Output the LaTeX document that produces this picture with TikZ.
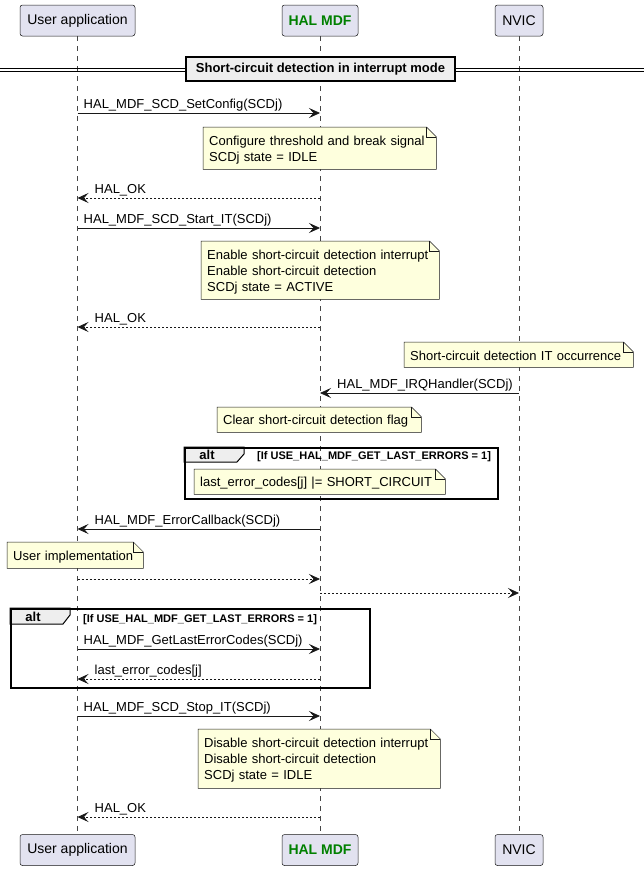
\documentclass[tikz,border=0pt]{standalone}
\usepackage{fontspec}
\setmainfont{Liberation Sans}
\usetikzlibrary{arrows.meta}
\definecolor{partfill}{HTML}{E2E2F0}
\definecolor{linec}{HTML}{181818}
\definecolor{notefill}{HTML}{FEFFDD}
\definecolor{grpfill}{HTML}{EEEEEE}
\definecolor{halgreen}{HTML}{008000}
\pgfdeclarelayer{bg}\pgfdeclarelayer{notelayer}\pgfsetlayers{bg,notelayer,main}
\tikzset{
 part/.style={draw=linec, fill=partfill, line width=0.5pt, rounded corners=2.5pt, minimum height=31pt, inner xsep=0pt, font=\fontsize{14}{16}\selectfont},
 halpart/.style={part, text=halgreen, font=\bfseries\fontsize{14}{16}\selectfont},
 lifeline/.style={draw=linec!80, line width=0.5pt, dash pattern=on 5pt off 5pt},
 msg/.style={draw=linec, line width=0.8pt, -{Stealth[length=11pt,width=10pt,inset=4.5pt]}},
 ret/.style={msg, dash pattern=on 2pt off 2pt},
 lbl/.style={font=\fontsize{13}{15}\selectfont, inner sep=0pt, anchor=base west},
 notetxt/.style={align=left, inner xsep=6pt, inner ysep=0pt, font=\fontsize{13}{16}\selectfont},
 noteline/.style={draw=linec, fill=notefill, line width=0.5pt},
 frm/.style={draw=black, line width=1.5pt, inner sep=0pt, anchor=north west},
 tab/.style={draw=black, fill=grpfill, line width=1pt},
 guard/.style={font=\bfseries\fontsize{11}{13}\selectfont, inner sep=0pt, anchor=base west},
 altlbl/.style={font=\bfseries\fontsize{13}{15}\selectfont, inner sep=0pt},
}
\newcommand\drawnote[6]{%
 \pgfmathsetmacro\nh{#5-#3}\pgfmathsetmacro\tw{#4-#2-12}\pgfmathsetmacro\ny{#3+1.5}%
 \node[notetxt, anchor=north west, text width=\tw pt, minimum height=\nh pt] (#1) at (#2,\ny) {#6};
 \begin{pgfonlayer}{notelayer}
 \path[noteline] ([yshift=1.5pt]#1.north west) -- ([xshift=-10pt,yshift=1.5pt]#1.north east) -- ([yshift=-8.5pt]#1.north east) -- ([yshift=1.5pt]#1.south east) -- ([yshift=1.5pt]#1.south west) -- cycle;
 \draw[linec, line width=0.5pt] ([xshift=-10pt,yshift=1.5pt]#1.north east) |- ([yshift=-8.5pt]#1.north east);
 \end{pgfonlayer}}
\newcommand\rmsg[6]{%
 \coordinate (#5s) at (#2 |- 0,#4);
 \coordinate (#5e) at (#3 |- 0,#4);
 \draw[#1] (#5s) -- (#5e);
 \node[lbl] (#5l) at ([xshift=6pt,yshift=5pt]#5s) {#6};}
\newcommand\lmsg[6]{%
 \coordinate (#5s) at (#2 |- 0,#4);
 \coordinate (#5e) at (#3 |- 0,#4);
 \draw[#1] (#5s) -- (#5e);
 \node[lbl] (#5l) at ([xshift=17pt,yshift=5pt]#5e) {#6};}
\begin{document}
\begin{tikzpicture}[x=1pt,y=-1pt]
\useasboundingbox (0,0) rectangle (644,870);
\begin{pgfonlayer}{bg}
\fill[white] (0,0) rectangle (644,870);
\end{pgfonlayer}
% participants
\node[part, minimum width=115pt] (ua) at (77.5,20.5) {User application};
\node[halpart, minimum width=76pt] (hal) at (320,20.5) {HAL MDF};
\node[part, minimum width=48pt] (nv) at (519,20.5) {NVIC};
\node[part, minimum width=115pt] (uab) at (77.5,850) {User application};
\node[halpart, minimum width=76pt] (halb) at (320,850) {HAL MDF};
\node[part, minimum width=48pt] (nvb) at (519,850) {NVIC};
\begin{pgfonlayer}{bg}
\draw[lifeline] (ua.south) -- (uab.north);
\draw[lifeline] (hal.south) -- (halb.north);
\draw[lifeline] (nv.south) -- (nvb.north);
\end{pgfonlayer}
% divider
\coordinate (dl) at (0,70);
\coordinate (dr) at (644,70);
\draw[black, line width=0.8pt] ([yshift=1.6pt]dl) -- ([yshift=1.6pt]dr);
\draw[black, line width=0.8pt] ([yshift=-1.6pt]dl) -- ([yshift=-1.6pt]dr);
\node[draw=black, line width=1.5pt, fill=grpfill, minimum width=269pt, minimum height=24pt, font=\bfseries\fontsize{13}{15}\selectfont] (div) at (320.5,69) {Short-circuit detection in interrupt mode};
% messages
\rmsg{msg}{ua}{hal}{113}{m1}{HAL\_MDF\_SCD\_SetConfig(SCDj)}
\drawnote{n1}{203}{127}{436}{169}{Configure threshold and break signal\\SCDj state = IDLE}
\lmsg{ret}{hal}{ua}{198}{m2}{HAL\_OK}
\rmsg{msg}{ua}{hal}{228}{m3}{HAL\_MDF\_SCD\_Start\_IT(SCDj)}
\drawnote{n2}{201}{241}{439}{299}{Enable short-circuit detection interrupt\\Enable short-circuit detection\\SCDj state = ACTIVE}
\lmsg{ret}{hal}{ua}{327}{m4}{HAL\_OK}
\drawnote{n3}{404}{342}{633}{367}{Short-circuit detection IT occurrence}
\lmsg{msg}{nv}{hal}{393}{m5}{HAL\_MDF\_IRQHandler(SCDj)}
\drawnote{n4}{217}{407}{421}{432}{Clear short-circuit detection flag}
% alt frame 1
\node[frm, minimum width=313pt, minimum height=51pt] (f1) at (184,447) {};
\begin{pgfonlayer}{notelayer}
\path[tab] (f1.north west) -- ++(60,0) -- ++(0,7) -- ++(-7,8) -- ++(-53,0) -- cycle;
\end{pgfonlayer}
\node[altlbl] (f1a) at ([xshift=23pt,yshift=-8pt]f1.north west) {alt};
\node[guard] (f1g) at ([xshift=73pt,yshift=-12pt]f1.north west) {[If USE\_HAL\_MDF\_GET\_LAST\_ERRORS = 1]};
\drawnote{n5}{194}{469}{445}{494}{last\_error\_codes[j] |= SHORT\_CIRCUIT}
\lmsg{msg}{hal}{ua}{529}{m6}{HAL\_MDF\_ErrorCallback(SCDj)}
\drawnote{n6}{7}{542}{143}{568}{User implementation}
\draw[ret] (ua |- 0,579) coordinate (m7s) -- (hal |- 0,579) coordinate (m7e);
\draw[ret] (hal |- 0,593) coordinate (m8s) -- (nv |- 0,593) coordinate (m8e);
% alt frame 2
\node[frm, minimum width=359pt, minimum height=79pt] (f2) at (10,608) {};
\begin{pgfonlayer}{notelayer}
\path[tab] (f2.north west) -- ++(60,0) -- ++(0,7) -- ++(-7,9) -- ++(-53,0) -- cycle;
\end{pgfonlayer}
\node[altlbl] (f2a) at ([xshift=23pt,yshift=-9pt]f2.north west) {alt};
\node[guard] (f2g) at ([xshift=73pt,yshift=-14pt]f2.north west) {[If USE\_HAL\_MDF\_GET\_LAST\_ERRORS = 1]};
\rmsg{msg}{ua}{hal}{649}{m9}{HAL\_MDF\_GetLastErrorCodes(SCDj)}
\lmsg{ret}{hal}{ua}{679}{m10}{last\_error\_codes[j]}
\rmsg{msg}{ua}{hal}{716}{m11}{HAL\_MDF\_SCD\_Stop\_IT(SCDj)}
\drawnote{n7}{198}{729}{440}{788}{Disable short-circuit detection interrupt\\Disable short-circuit detection\\SCDj state = IDLE}
\lmsg{ret}{hal}{ua}{817}{m12}{HAL\_OK}
\end{tikzpicture}
\end{document}
